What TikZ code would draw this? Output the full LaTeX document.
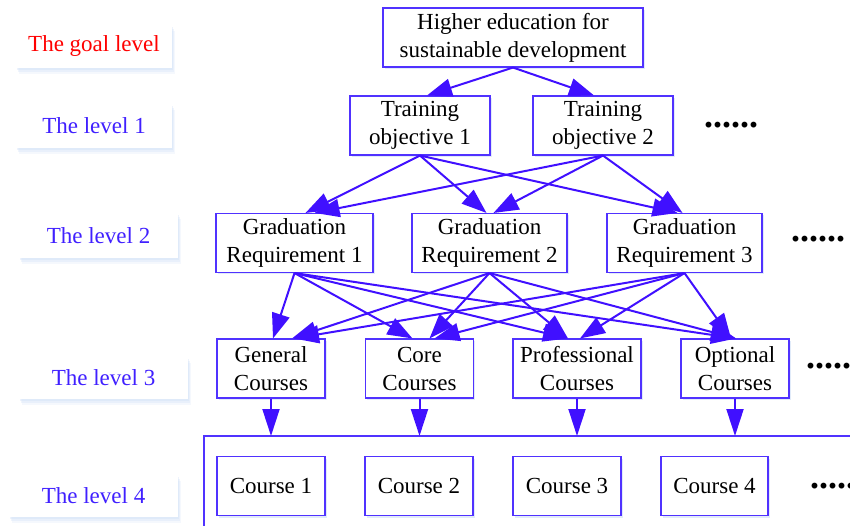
\documentclass[tikz,border=0pt]{standalone}
\usepackage{fontspec}
\setmainfont{Liberation Serif}
\usetikzlibrary{arrows.meta,shadows,calc}
\definecolor{bx}{RGB}{80,50,255}
\definecolor{ar}{RGB}{64,16,255}
\definecolor{lbl}{RGB}{64,32,255}
\definecolor{shb}{RGB}{205,222,245}
\tikzset{
 box/.style={draw=bx, line width=1.1pt, fill=white, inner sep=0pt, align=center,
   minimum height=59pt, font=\fontsize{23}{28}\selectfont,
   drop shadow={shadow xshift=1.5pt, shadow yshift=-2pt, fill=shb, opacity=0.6}},
 lab/.style={fill=white, inner sep=0pt, font=\fontsize{23}{28}\selectfont, text=lbl,
   drop shadow={shadow xshift=0.5pt, shadow yshift=-2pt, fill=shb, opacity=0.35},
   drop shadow={shadow xshift=1.5pt, shadow yshift=-4pt, fill=shb, opacity=0.3},
   drop shadow={shadow xshift=2.5pt, shadow yshift=-6pt, fill=shb, opacity=0.2}},
 arr/.style={draw=ar, line width=2pt, -{Triangle[length=25pt,width=18pt]}},
 varr/.style={draw=ar, line width=2pt, -{Triangle[length=27pt,width=17pt]}},
 dotsnode/.style={font=\fontsize{36}{36}\selectfont\bfseries, inner sep=0pt, anchor=base west},
}
\begin{document}
\begin{tikzpicture}[x=1pt,y=-1pt]
\useasboundingbox (0,0) rectangle (850,526);
\clip (0,0) rectangle (850,526);
% level labels
\node[lab, text=red, minimum width=156pt, minimum height=43pt] (lg) at (94,46.5) {The goal level};
\node[lab, minimum width=156pt, minimum height=44pt] (l1) at (94,126) {The level 1};
\node[lab, minimum width=159pt, minimum height=45pt] (l2) at (98.5,235.5) {The level 2};
\node[lab, minimum width=169pt, minimum height=42pt] (l3) at (103.5,378) {The level 3};
\node[lab, minimum width=169pt, minimum height=42pt] (l4) at (93.5,496) {The level 4};
% boxes
\node[box, minimum width=260pt] (top) at (513,37.5) {Higher education for\\sustainable development};
\node[box, minimum width=140pt] (to1) at (420,125.5) {Training\\objective 1};
\node[box, minimum width=140pt] (to2) at (603,125.5) {Training\\objective 2};
\node[box, minimum width=157pt] (gr1) at (294.5,243) {Graduation\\Requirement 1};
\node[box, minimum width=155pt] (gr2) at (489.5,243) {Graduation\\Requirement 2};
\node[box, minimum width=155pt] (gr3) at (684.5,243) {Graduation\\Requirement 3};
\node[box, minimum width=108pt] (gen) at (271,368.5) {General\\Courses};
\node[box, minimum width=108pt] (core) at (419.5,368.5) {Core\\Courses};
\node[box, minimum width=128pt] (prof) at (577,368.5) {Professional\\Courses};
\node[box, minimum width=108pt] (opt) at (735,368.5) {Optional\\Courses};
\node[box, minimum width=108pt] (c1) at (271,486) {Course 1};
\node[box, minimum width=108pt] (c2) at (419,486) {Course 2};
\node[box, minimum width=108pt] (c3) at (567,486) {Course 3};
\node[box, minimum width=107pt] (c4) at (714.5,486) {Course 4};
% dots
\node[dotsnode] (d1) at (704,128) {......};
\node[dotsnode] (d2) at (791,242) {......};
\node[dotsnode] (d3) at (806,368) {......};
\node[dotsnode] (d4) at (810,488) {......};
% bracket
\coordinate (brL) at (204,436);
\coordinate (brR) at (852,436);
\coordinate (brB) at (204,530);
\draw[draw=bx, line width=1.1pt] (brR) -- (brL) -- (brB);
% top -> level 1
\draw[arr] (top.south) -- ($(to1.north)+(7,0)$);
\draw[arr] (top.south) -- ($(to2.north)+(-9,0)$);
% level 1 -> level 2
\draw[arr] (to1.south) -- ($(gr1.north)+(11,0)$);
\draw[arr] (to1.south) -- ($(gr2.north)+(-3,0)$);
\draw[arr] (to1.south) -- ($(gr3.north)+(-7,0)$);
\draw[arr] (to2.south) -- ($(gr1.north)+(20,0)$);
\draw[arr] (to2.south) -- ($(gr2.north)+(4,0)$);
\draw[arr] (to2.south) -- ($(gr3.north)+(-2,0)$);
% level 2 -> level 3
\draw[arr] (gr1.south) -- ($(gen.north)+(2,0)$);
\draw[arr] (gr1.south) -- ($(core.north)+(-7,0)$);
\draw[arr] (gr1.south) -- ($(prof.north)+(-9,0)$);
\draw[arr] (gr1.south) -- ($(opt.north)+(1,0)$);
\draw[arr] (gr2.south) -- ($(gen.north)+(21,0)$);
\draw[arr] (gr2.south) -- ($(core.north)+(10,0)$);
\draw[arr] (gr2.south) -- ($(prof.north)+(-9,0)$);
\draw[arr] (gr2.south) -- ($(opt.north)+(1,0)$);
\draw[arr] (gr3.south) -- ($(gen.north)+(23,0)$);
\draw[arr] (gr3.south) -- ($(core.north)+(15,0)$);
\draw[arr] (gr3.south) -- ($(prof.north)+(3,0)$);
\draw[arr] (gr3.south) -- ($(opt.north)+(-4,0)$);
% level 3 -> bracket
\draw[varr] (gen.south) -- (gen.south |- brL);
\draw[varr] (core.south) -- (core.south |- brL);
\draw[varr] (prof.south) -- (prof.south |- brL);
\draw[varr] (opt.south) -- (opt.south |- brL);
\end{tikzpicture}
\end{document}
